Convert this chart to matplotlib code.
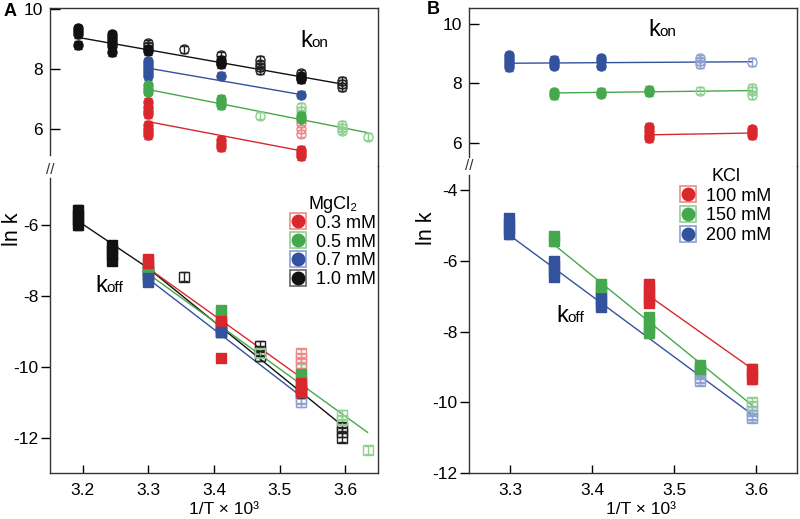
import matplotlib
matplotlib.use('Agg')
import matplotlib.pyplot as plt
from matplotlib.lines import Line2D

plt.rcParams['font.family'] = ['Liberation Sans', 'DejaVu Sans']

RED = '#d9282d'
GREEN = '#46a84c'
BLUE = '#33529e'
BLACK = '#111111'
LIGHT = {RED: '#ec8a8a', GREEN: '#8fcf8f', BLUE: '#8da0d0', BLACK: '#222222'}

# x = 1/T x 10^3, y = ln k, o = 1 for open (hollow) markers
# ---------------- Panel A: k_on, MgCl2 ----------------
a_on_k_x = [3.193, 3.193, 3.193, 3.193, 3.245, 3.245, 3.245, 3.245, 3.245, 3.245,
            3.299, 3.299, 3.299, 3.299, 3.354, 3.411, 3.411, 3.411, 3.411,
            3.470, 3.470, 3.470, 3.470, 3.532, 3.532, 3.532, 3.532, 3.595, 3.595, 3.595]
a_on_k_y = [9.35, 9.25, 9.15, 8.8, 9.15, 9.05, 8.95, 8.85, 8.75, 8.55,
            8.85, 8.75, 8.65, 8.6, 8.65, 8.45, 8.3, 8.2, 8.15,
            8.3, 8.15, 8.05, 7.95, 7.85, 7.75, 7.7, 7.65, 7.6, 7.5, 7.4]
a_on_k_o = [0, 0, 0, 0, 0, 0, 0, 0, 0, 0,
            1, 1, 0, 0, 1, 1, 0, 0, 1,
            1, 1, 1, 1, 1, 0, 1, 0, 1, 1, 1]
a_on_k_fit = ([3.193, 3.595], [9.05, 7.5])

a_on_b_x = [3.299, 3.299, 3.299, 3.299, 3.299, 3.299, 3.411, 3.532]
a_on_b_y = [8.25, 8.15, 8.05, 7.95, 7.85, 7.75, 7.78, 7.15]
a_on_b_o = [0, 0, 0, 0, 0, 0, 0, 0]
a_on_b_fit = ([3.299, 3.532], [8.03, 7.15])

a_on_g_x = [3.299, 3.299, 3.299, 3.411, 3.411, 3.411, 3.470, 3.532, 3.532, 3.532, 3.532,
            3.595, 3.595, 3.595, 3.634]
a_on_g_y = [7.45, 7.35, 7.25, 7.0, 6.9, 6.8, 6.45, 6.75, 6.6, 6.45, 6.35,
            6.15, 6.05, 5.95, 5.75]
a_on_g_o = [0, 0, 0, 0, 0, 0, 1, 1, 1, 0, 0, 1, 1, 1, 1]
a_on_g_fit = ([3.299, 3.634], [7.32, 5.88])

a_on_r_x = [3.299, 3.299, 3.299, 3.299, 3.299, 3.299, 3.299, 3.299, 3.411, 3.411, 3.411,
            3.532, 3.532, 3.532, 3.532, 3.532, 3.532]
a_on_r_y = [6.9, 6.75, 6.6, 6.5, 6.15, 6.0, 5.9, 5.8, 5.65, 5.5, 5.4,
            6.2, 6.0, 5.85, 5.3, 5.2, 5.1]
a_on_r_o = [0, 0, 0, 0, 0, 0, 0, 0, 0, 0, 0, 1, 1, 1, 0, 0, 0]
a_on_r_fit = ([3.299, 3.532], [6.25, 5.28])

# ---------------- Panel A: k_off, MgCl2 ----------------
a_off_k_x = [3.193, 3.193, 3.193, 3.193, 3.245, 3.245, 3.245, 3.245, 3.299, 3.299, 3.299,
             3.354, 3.411, 3.411, 3.411, 3.470, 3.470, 3.470, 3.532, 3.532, 3.532,
             3.595, 3.595, 3.595]
a_off_k_y = [-5.55, -5.7, -5.85, -6.0, -6.55, -6.7, -6.85, -7.0, -7.2, -7.3, -7.4,
             -7.45, -8.8, -8.9, -9.0, -9.4, -9.55, -9.7, -10.5, -10.65, -10.75,
             -11.7, -11.85, -12.0]
a_off_k_o = [0, 0, 0, 0, 0, 0, 0, 0, 1, 0, 1, 1, 1, 1, 1, 1, 1, 1, 1, 1, 1, 1, 1, 1]
a_off_k_fit = ([3.193, 3.299, 3.595], [-5.88, -7.2, -11.65])

a_off_r_x = [3.299, 3.299, 3.411, 3.411, 3.532, 3.532, 3.532, 3.532, 3.532]
a_off_r_y = [-6.95, -7.05, -8.7, -9.75, -9.6, -9.75, -9.9, -10.45, -10.7]
a_off_r_o = [0, 0, 0, 0, 1, 1, 1, 0, 0]
a_off_r_fit = ([3.299, 3.532], [-7.2, -10.29])

a_off_g_x = [3.299, 3.411, 3.411, 3.411, 3.470, 3.532, 3.532, 3.532, 3.595, 3.595, 3.634]
a_off_g_y = [-7.3, -8.4, -8.55, -9.0, -9.6, -10.05, -10.2, -10.3, -11.35, -11.5, -12.35]
a_off_g_o = [0, 0, 0, 0, 1, 1, 0, 1, 1, 1, 1]
a_off_g_fit = ([3.299, 3.634], [-7.36, -11.85])

a_off_b_x = [3.299, 3.299, 3.411, 3.532, 3.532]
a_off_b_y = [-7.5, -7.6, -9.0, -10.9, -11.0]
a_off_b_o = [0, 0, 0, 1, 1]
a_off_b_fit = ([3.299, 3.532], [-7.5, -10.82])

# ---------------- Panel B: k_on, KCl ----------------
b_on_b_x = [3.299, 3.299, 3.299, 3.299, 3.299, 3.354, 3.354, 3.354, 3.411, 3.411, 3.411,
            3.532, 3.532, 3.532, 3.595]
b_on_b_y = [8.95, 8.85, 8.75, 8.65, 8.55, 8.8, 8.7, 8.6, 8.85, 8.75, 8.6,
            8.85, 8.75, 8.65, 8.72]
b_on_b_o = [0, 0, 0, 0, 0, 0, 0, 0, 0, 0, 0, 1, 1, 1, 1]
b_on_b_fit = ([3.299, 3.595], [8.68, 8.73])

b_on_g_x = [3.354, 3.354, 3.411, 3.411, 3.470, 3.470, 3.532, 3.595, 3.595, 3.595]
b_on_g_y = [7.7, 7.6, 7.72, 7.65, 7.78, 7.7, 7.75, 7.85, 7.75, 7.6]
b_on_g_o = [0, 0, 0, 0, 0, 0, 1, 1, 1, 1]
b_on_g_fit = ([3.354, 3.595], [7.68, 7.76])

b_on_r_x = [3.470, 3.470, 3.470, 3.470, 3.595, 3.595, 3.595]
b_on_r_y = [6.55, 6.4, 6.25, 6.15, 6.45, 6.35, 6.25]
b_on_r_o = [0, 0, 0, 0, 0, 0, 0]
b_on_r_fit = ([3.470, 3.595], [6.27, 6.33])

# ---------------- Panel B: k_off, KCl ----------------
b_off_b_x = [3.299, 3.299, 3.299, 3.299, 3.354, 3.354, 3.354, 3.354, 3.411, 3.411, 3.411, 3.411,
             3.532, 3.532, 3.532, 3.532, 3.595, 3.595, 3.595]
b_off_b_y = [-4.8, -4.95, -5.1, -5.25, -6.0, -6.15, -6.3, -6.45, -6.9, -7.05, -7.2, -7.3,
             -9.1, -9.2, -9.3, -9.4, -10.25, -10.35, -10.45]
b_off_b_o = [0, 0, 0, 0, 0, 0, 0, 0, 0, 0, 0, 0, 1, 1, 1, 1, 1, 1, 1]
b_off_b_fit = ([3.299, 3.595], [-5.27, -10.34])

b_off_g_x = [3.354, 3.354, 3.411, 3.411, 3.470, 3.470, 3.470, 3.470, 3.532, 3.532, 3.595, 3.595]
b_off_g_y = [-5.3, -5.45, -6.65, -6.75, -7.6, -7.75, -7.9, -8.05, -8.95, -9.05, -10.0, -10.1]
b_off_g_o = [0, 0, 0, 0, 0, 0, 0, 0, 0, 0, 1, 1]
b_off_g_fit = ([3.354, 3.595], [-5.55, -10.08])

b_off_r_x = [3.470, 3.470, 3.470, 3.470, 3.470, 3.595, 3.595, 3.595]
b_off_r_y = [-6.65, -6.8, -6.95, -7.1, -7.2, -9.05, -9.2, -9.35]
b_off_r_o = [0, 0, 0, 0, 0, 0, 0, 0]
b_off_r_fit = ([3.470, 3.595], [-7.0, -9.05])

mg_labels = ['0.3 mM', '0.5 mM', '0.7 mM', '1.0 mM']
kcl_labels = ['100 mM', '150 mM', '200 mM']
ERR = 0.12

W, H = 800, 519
fig = plt.figure(figsize=(W / 100, H / 100), dpi=100)


def px_axes(x0, y0, x1, y1):
    return fig.add_axes([x0 / W, 1 - y1 / H, (x1 - x0) / W, (y1 - y0) / H])


def series(ax, x, y, o, color, marker, fit):
    ax.plot(fit[0], fit[1], color=color, lw=1.0, zorder=2)
    for xi, yi, oi in zip(x, y, o):
        if oi:
            ax.errorbar(xi, yi, yerr=ERR, fmt=marker, ms=6.5, mfc='none', mec=LIGHT[color],
                        mew=1.0, ecolor=LIGHT[color], elinewidth=1.0, capsize=3, capthick=1.0,
                        zorder=3)
        else:
            ax.errorbar(xi, yi, yerr=ERR, fmt=marker, ms=6.5, color=color, mec=color,
                        ecolor=color, elinewidth=1.0, capsize=3, zorder=4)


def style(ax, top, ylim, yticks, xlim, xticks, spine_bounds):
    ax.set_xlim(*xlim)
    ax.set_ylim(*ylim)
    ax.set_yticks(yticks)
    ax.set_yticklabels([f'{t:g}' for t in yticks])
    if top:
        ax.tick_params(axis='y', direction='in', length=7, width=1, labelsize=12.5, pad=5)
    else:
        ax.tick_params(axis='y', direction='out', length=6.5, width=1, labelsize=12.5, pad=2)
    ax.tick_params(axis='x', direction='in', length=6, width=1, labelsize=12.5, pad=7)
    for s in ax.spines.values():
        s.set_linewidth(1.0)
        s.set_color('#333333')
    ax.spines['left'].set_bounds(*spine_bounds)
    if top:
        ax.spines['bottom'].set_visible(False)
        ax.set_xticks([])
    else:
        ax.spines['top'].set_visible(False)
        ax.set_xticks(xticks)
        ax.set_xticklabels([f'{t:.1f}' for t in xticks])
    ax.patch.set_alpha(0)


def k_label(x, y, sub):
    fig.text(x / W, 1 - y / H, 'k', fontsize=17, va='baseline', ha='left')
    fig.text((x + 11.5) / W, 1 - y / H, sub, fontsize=11, va='baseline', ha='left')


# ---------- Panel A ----------
axA1 = px_axes(50, 8, 378, 166)
axA2 = px_axes(50, 166, 378, 473)
series(axA1, a_on_k_x, a_on_k_y, a_on_k_o, BLACK, 'o', a_on_k_fit)
series(axA1, a_on_b_x, a_on_b_y, a_on_b_o, BLUE, 'o', a_on_b_fit)
series(axA1, a_on_g_x, a_on_g_y, a_on_g_o, GREEN, 'o', a_on_g_fit)
series(axA1, a_on_r_x, a_on_r_y, a_on_r_o, RED, 'o', a_on_r_fit)
series(axA2, a_off_k_x, a_off_k_y, a_off_k_o, BLACK, 's', a_off_k_fit)
series(axA2, a_off_g_x, a_off_g_y, a_off_g_o, GREEN, 's', a_off_g_fit)
series(axA2, a_off_r_x, a_off_r_y, a_off_r_o, RED, 's', a_off_r_fit)
series(axA2, a_off_b_x, a_off_b_y, a_off_b_o, BLUE, 's', a_off_b_fit)
style(axA1, True, (4.77, 10.03), [6, 8, 10], (3.15, 3.65), None, (5.13, 10.03))
style(axA2, False, (-13.0, -4.32), [-12, -10, -8, -6], (3.15, 3.65),
      [3.2, 3.3, 3.4, 3.5, 3.6], (-13.0, -4.66))

# ---------- Panel B ----------
axB1 = px_axes(469, 8, 797, 166)
axB2 = px_axes(469, 166, 797, 473)
series(axB1, b_on_b_x, b_on_b_y, b_on_b_o, BLUE, 'o', b_on_b_fit)
series(axB1, b_on_g_x, b_on_g_y, b_on_g_o, GREEN, 'o', b_on_g_fit)
series(axB1, b_on_r_x, b_on_r_y, b_on_r_o, RED, 'o', b_on_r_fit)
series(axB2, b_off_b_x, b_off_b_y, b_off_b_o, BLUE, 's', b_off_b_fit)
series(axB2, b_off_g_x, b_off_g_y, b_off_g_o, GREEN, 's', b_off_g_fit)
series(axB2, b_off_r_x, b_off_r_y, b_off_r_o, RED, 's', b_off_r_fit)
style(axB1, True, (5.22, 10.54), [6, 8, 10], (3.25, 3.65), None, (5.52, 10.54))
style(axB2, False, (-12.0, -3.32), [-12, -10, -8, -6, -4], (3.25, 3.65),
      [3.3, 3.4, 3.5, 3.6], (-12.0, -3.58))


# legends: filled circle on a light square
def handles(colors):
    return [(Line2D([], [], marker='s', ms=11, mfc='none', mec=LIGHT[c] if c != BLACK else '#666666',
                    mew=1.2, ls='none'),
             Line2D([], [], marker='o', ms=9, color=c, ls='none')) for c in colors]


legA = axA2.legend(handles([RED, GREEN, BLUE, BLACK]), mg_labels, title='MgCl\u2082',
                   loc='upper left', bbox_to_anchor=(290 / W, 1 - 196 / H), bbox_transform=fig.transFigure,
                   frameon=False, fontsize=13, title_fontsize=13, handlelength=0.9,
                   handletextpad=0.55, labelspacing=0.1, borderpad=0, borderaxespad=0)
legB = axB2.legend(handles([RED, GREEN, BLUE]), kcl_labels, title='KCl',
                   loc='upper left', bbox_to_anchor=(680 / W, 1 - 168 / H), bbox_transform=fig.transFigure,
                   frameon=False, fontsize=13, title_fontsize=13, handlelength=0.9,
                   handletextpad=0.55, labelspacing=0.15, borderpad=0, borderaxespad=0)

# k labels, axis labels, panel letters, axis breaks
k_label(300, 47, 'on')
k_label(95, 292, 'off')
k_label(648, 36, 'on')
k_label(556, 322, 'off')

fig.text(12 / W, 1 - 229 / H, 'ln k', rotation=90, fontsize=15.5, ha='center', va='center')
fig.text(427 / W, 1 - 228 / H, 'ln k', rotation=90, fontsize=15.5, ha='center', va='center')
fig.text(224 / W, 1 - 510 / H, '1/T \u00d7 10\u00b3', fontsize=12.5, ha='center', va='center')
fig.text(641 / W, 1 - 510 / H, '1/T \u00d7 10\u00b3', fontsize=12.5, ha='center', va='center')
fig.text(10 / W, 1 - 12 / H, 'A', fontsize=13, fontweight='bold', ha='center', va='center')
fig.text(433 / W, 1 - 10 / H, 'B', fontsize=13, fontweight='bold', ha='center', va='center')
fig.text(50 / W, 1 - 170 / H, '//', fontsize=11, ha='center', va='center', color='#333333')
fig.text(469 / W, 1 - 166 / H, '//', fontsize=11, ha='center', va='center', color='#333333')

fig.savefig('out.png', dpi=100)
